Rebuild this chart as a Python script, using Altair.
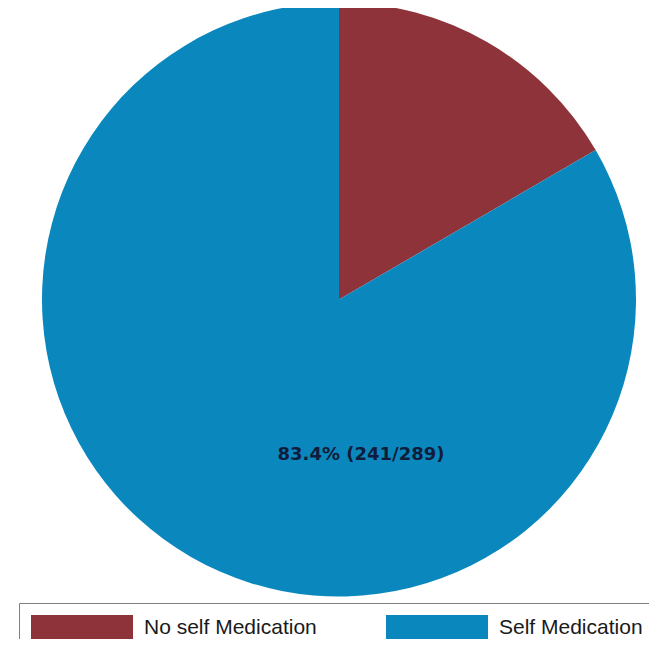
import altair as alt
import pandas as pd

categories = ["No self Medication", "Self Medication"]
counts = [48, 241]
colors = ["#8E3339", "#0A88BE"]
label_text = ["", "83.4% (241/289)"]

df = pd.DataFrame({"category": categories, "count": counts, "label": label_text})

color_scale = alt.Scale(domain=categories, range=colors)

pie = alt.Chart(df).mark_arc(radius=297, stroke=None).encode(
    theta=alt.Theta("count:Q", stack=True),
    color=alt.Color(
        "category:N",
        scale=color_scale,
        sort=categories,
        legend=alt.Legend(
            title=None,
            orient="none",
            legendX=11,
            legendY=595,
            direction="horizontal",
            symbolType="M-1,-1L7.16,-1L7.16,1L-1,1Z",
            symbolSize=625,
            symbolStrokeWidth=0,
            symbolOpacity=1,
            labelFont="Liberation Sans",
            labelFontSize=21,
            labelColor="#1A1A1A",
            labelLimit=400,
            labelOffset=88,
            columnPadding=69,
            padding=12,
            strokeColor="#808080",
            fillColor="white",
        ),
    ),
    order=alt.Order("order:Q"),
    x=alt.value(331),
    y=alt.value(291.5),
).transform_calculate(order="datum.category == 'No self Medication' ? 0 : 1")

text = alt.Chart(df).transform_filter("datum.label != ''").mark_text(
    font="DejaVu Sans", fontWeight="bold", fontSize=18, color="#101C3C"
).encode(
    text="label:N",
    x=alt.value(353),
    y=alt.value(447),
)

chart = alt.layer(pie, text).properties(
    width=641, height=631, autosize=alt.AutoSizeParams(type="none"), padding=0
).configure_view(stroke=None)

chart.save("out.html", embed_options={"renderer": "svg", "actions": False})
